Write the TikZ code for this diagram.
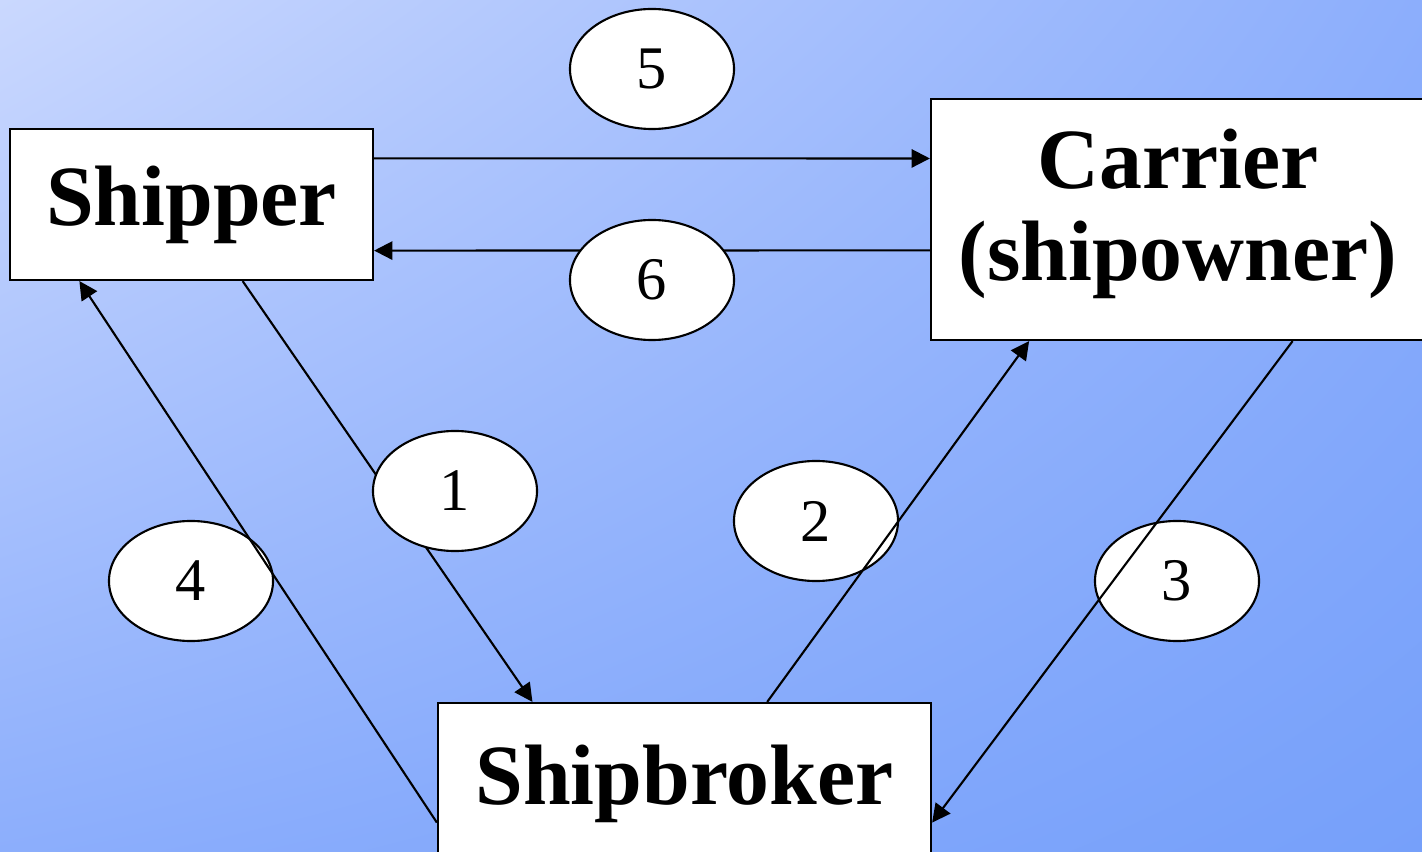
\documentclass[tikz,border=0pt]{standalone}
\usepackage{fontspec}
\setmainfont{Liberation Serif}
\usetikzlibrary{shapes,shadings,arrows.meta,calc,positioning}
\definecolor{sealight}{RGB}{202,216,254}
\definecolor{seamid}{RGB}{140,174,252}
\definecolor{seadeep}{RGB}{118,160,250}
\tikzset{
    -{Triangle[length=13pt,width=13pt]},
    party/.style ={rectangle, draw, fill=white, align=center, inner sep=0pt, font=\fontsize{61}{66}\selectfont\bfseries},
    num/.style = {ellipse, draw, fill=white, minimum width=4.1cm, minimum height=3cm, inner sep=0pt, font=\fontsize{43}{43}\selectfont}
}

\begin{document}
\begin{tikzpicture}[x=0.025cm,y=-0.025cm,line width=1.5pt]
    \useasboundingbox (0,0) rectangle (1422,852);
    \clip (0,0) rectangle (1422,852);
    % sea background
    \shade[upper left=sealight, upper right=seamid, lower left=seamid, lower right=seadeep] (0,0) rectangle (1422,852);

    %%Nodes
    \node[party, minimum width=9.075cm, minimum height=3.775cm] (shipper) at (191.5,204.5) {Shipper};
    \node[party, minimum width=12.35cm, minimum height=6.025cm] (carrier) at (1178,219.5) {Carrier\\(shipowner)\rule[-21pt]{0pt}{1pt}};
    \node[party, minimum width=12.325cm, minimum height=4.05cm] (broker) at (684.5,784) {Shipbroker};

    % numbers under the lines
    \node[num] (n2) at (816,521) {2};
    \node[num] (n3) at (1177,581) {3};
    \node[num] (n4) at (191,581) {4};

    % Directed edge
    \path ($(shipper.north east)!0.199!(shipper.south east)$) edge ($(carrier.north west)!0.249!(carrier.south west)$);
    \path ($(carrier.north west)!0.627!(carrier.south west)$) edge ($(shipper.north east)!0.801!(shipper.south east)$);
    \path ($(shipper.south west)!0.64!(shipper.south east)$) edge ($(broker.north west)!0.193!(broker.north east)$);
    \path ($(broker.north west)!0.667!(broker.north east)$) edge ($(carrier.south west)!0.2!(carrier.south east)$);
    \path ($(carrier.south west)!0.731!(carrier.south east)$) edge ($(broker.north east)!0.735!(broker.south east)$);
    \path ($(broker.north west)!0.735!(broker.south west)$) edge ($(shipper.south west)!0.193!(shipper.south east)$);

    % numbers over the lines
    \node[num] (n1) at (455,491) {1};
    \node[num] (n5) at (652,69) {5};
    \node[num] (n6) at (652,280) {6};
\end{tikzpicture}
\end{document}
